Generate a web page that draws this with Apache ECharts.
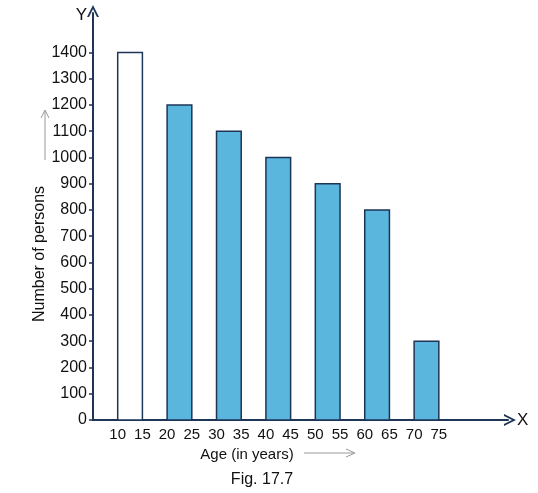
<!DOCTYPE html>
<html>
<head>
<meta charset="utf-8">
<script src="https://cdn.jsdelivr.net/npm/echarts@6/dist/echarts.min.js"></script>
<style>
    html, body { margin: 0; padding: 0; background: #fff; }
    #chart { width: 538px; height: 493px; }
</style>
</head>
<body>
<div id="chart"></div>
<script>
// class intervals (age in years) and number of persons
const classStart = [10, 20, 30, 40, 50, 60, 70];
const classEnd = [15, 25, 35, 45, 55, 65, 75];
const persons = [1400, 1200, 1100, 1000, 900, 800, 300];
const xTickLabels = [10, 15, 20, 25, 30, 35, 40, 45, 50, 55, 60, 65, 70, 75];
const yTickLabels = [0, 100, 200, 300, 400, 500, 600, 700, 800, 900, 1000, 1100, 1200, 1300, 1400];

const chart = echarts.init(document.getElementById("chart"));

const axisColor = "#1d3557";
const fillBlue = "#5ab6dc";
const chevron = "path://M0,12 L6,0 L12,12 L10,12 L6,4 L2,12 Z";

const option = {
    animation: false,
    grid: { left: 93, right: 30, top: 13, bottom: 73 },
    xAxis: {
        type: "value",
        min: 5,
        max: 89,
        name: "X",
        nameLocation: "end",
        nameGap: 9,
        nameTextStyle: { color: "#111", fontSize: 17, fontFamily: "Liberation Sans" },
        axisLine: {
            show: true,
            symbol: ["none", chevron],
            symbolSize: [12, 12],
            symbolOffset: [0, 2],
            lineStyle: { color: axisColor, width: 2 }
        },
        axisTick: { show: false },
        splitLine: { show: false },
        axisLabel: {
            customValues: xTickLabels,
            formatter: (v) => String(v),
            color: "#111",
            fontSize: 15,
            fontFamily: "Liberation Sans",
            margin: 7
        }
    },
    yAxis: {
        type: "value",
        min: 0,
        max: 1550,
        name: "Y",
        nameLocation: "end",
        nameGap: -11,
        nameTextStyle: {
            color: "#111", fontSize: 17, fontFamily: "Liberation Sans",
            align: "right", padding: [0, 6, 0, 0]
        },
        axisLine: {
            show: true,
            symbol: ["none", chevron],
            symbolSize: [12, 12],
            symbolOffset: [0, 2],
            lineStyle: { color: axisColor, width: 2 }
        },
        axisTick: {
            show: true,
            customValues: yTickLabels,
            length: 4,
            lineStyle: { color: axisColor, width: 1.5 }
        },
        splitLine: { show: false },
        axisLabel: {
            customValues: yTickLabels,
            formatter: (v) => String(v),
            color: "#111",
            fontSize: 16,
            fontFamily: "Liberation Sans",
            margin: 6
        }
    },
    series: [
        {
            type: "custom",
            data: classStart.map((s, i) => [s, classEnd[i], persons[i]]),
            renderItem: function (params, api) {
                const topLeft = api.coord([api.value(0), api.value(2)]);
                const bottomRight = api.coord([api.value(1), 0]);
                return {
                    type: "rect",
                    shape: {
                        x: topLeft[0],
                        y: topLeft[1],
                        width: bottomRight[0] - topLeft[0],
                        height: bottomRight[1] - topLeft[1]
                    },
                    style: {
                        fill: params.dataIndex === 0 ? "#fff" : fillBlue,
                        stroke: axisColor,
                        lineWidth: 1.5
                    }
                };
            },
            z: 1
        }
    ],
    graphic: [
        {
            type: "text",
            x: 40,
            y: 254,
            rotation: Math.PI / 2,
            style: {
                text: "Number of persons",
                fill: "#111",
                fontSize: 16,
                fontFamily: "Liberation Sans",
                align: "center",
                verticalAlign: "middle"
            }
        },
        {
            type: "polyline",
            shape: { points: [[45, 160], [45, 111]] },
            style: { stroke: "#999", lineWidth: 1 }
        },
        {
            type: "polyline",
            shape: { points: [[41, 118], [45, 110], [49, 118]] },
            style: { stroke: "#999", lineWidth: 1, fill: null }
        },
        {
            type: "text",
            x: 247,
            y: 455,
            style: {
                text: "Age (in years)",
                fill: "#111",
                fontSize: 15,
                fontFamily: "Liberation Sans",
                align: "center",
                verticalAlign: "middle"
            }
        },
        {
            type: "polyline",
            shape: { points: [[304, 453], [354, 453]] },
            style: { stroke: "#999", lineWidth: 1 }
        },
        {
            type: "polyline",
            shape: { points: [[346, 449], [355, 453], [346, 457]] },
            style: { stroke: "#999", lineWidth: 1, fill: null }
        },
        {
            type: "text",
            x: 262,
            y: 480,
            style: {
                text: "Fig. 17.7",
                fill: "#111",
                fontSize: 16,
                fontFamily: "Liberation Sans",
                align: "center",
                verticalAlign: "middle"
            }
        }
    ]
};

chart.setOption(option);
</script>
</body>
</html>
